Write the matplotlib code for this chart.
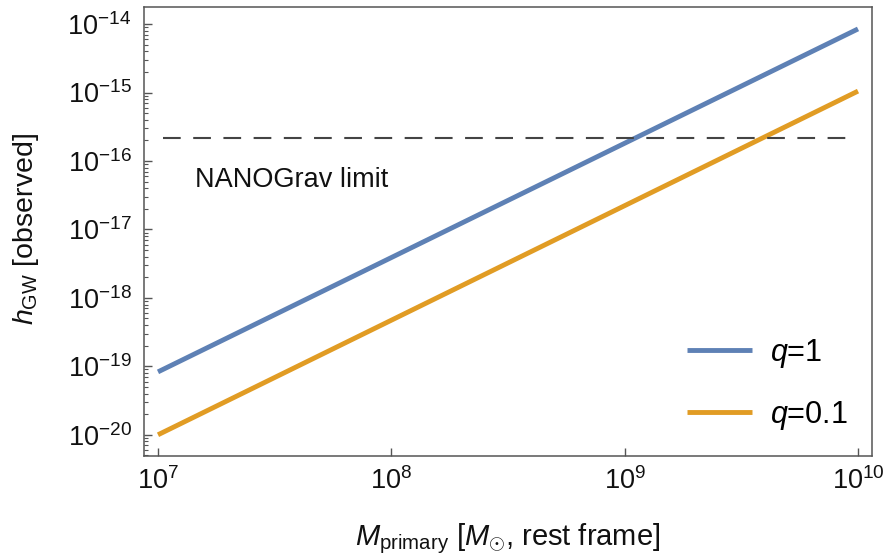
import numpy as np
import matplotlib.pyplot as plt
from matplotlib.ticker import LogLocator, NullFormatter

plt.rcParams['font.family'] = ['Liberation Sans', 'DejaVu Sans']
plt.rcParams['mathtext.fontset'] = 'custom'
plt.rcParams['mathtext.rm'] = 'Liberation Sans'
plt.rcParams['mathtext.it'] = 'Liberation Sans:italic'

# ── datos ─────────────────────────────────────
m_primary = [1e7, 1e10]
h_q1 = [8.3e-20, 8.5e-15]
h_q01 = [1.0e-20, 1.05e-15]
nanograv_limit = 2.2e-16
limit_span = [10 ** 7.02, 10 ** 9.966]

BLUE = '#5E81B5'
ORANGE = '#E19C24'
AX = '#555555'
TXT = '#111111'

fig = plt.figure(figsize=(8.88, 5.58), dpi=100)
ax = fig.add_axes([144 / 888, 1 - 456 / 558, (872 - 144) / 888, (456 - 7) / 558])

ax.plot(m_primary, h_q1, color=BLUE, lw=3.5, label='$q$=1', solid_capstyle='butt')
ax.plot(m_primary, h_q01, color=ORANGE, lw=3.5, label='$q$=0.1', solid_capstyle='butt')
ax.plot(limit_span, [nanograv_limit] * 2, color='#444444', lw=1.5, dashes=(8.5, 6))

ax.set_xscale('log')
ax.set_yscale('log')
ax.set_xlim(10 ** 6.94, 10 ** 10.06)
ax.set_ylim(10 ** -20.31, 10 ** -13.75)

ax.text(10 ** 7.158, 10 ** -16.28, 'NANOGrav limit', fontsize=19.5, va='center', ha='left', color=TXT)

for sp in ax.spines.values():
    sp.set_color(AX)
    sp.set_linewidth(1.1)

ax.xaxis.set_major_locator(LogLocator(base=10, numticks=10))
ax.xaxis.set_minor_locator(LogLocator(base=10, subs=(), numticks=10))
ax.xaxis.set_minor_formatter(NullFormatter())
ax.yaxis.set_major_locator(LogLocator(base=10, numticks=20))
ax.yaxis.set_minor_locator(LogLocator(base=10, subs=np.arange(2, 10), numticks=20))
ax.yaxis.set_minor_formatter(NullFormatter())
ax.tick_params(which='both', direction='in', top=False, right=False, colors=AX,
               labelcolor=TXT, labelsize=19.5)
ax.tick_params(axis='y', pad=9)
ax.tick_params(axis='x', pad=8)
ax.tick_params(which='major', length=6, width=1.0)
ax.tick_params(which='minor', length=3, width=0.8)

ax.set_xlabel(r'$M_{\rm primary}$ [$M_{\odot}$, rest frame]', fontsize=21, color=TXT)
ax.set_ylabel(r'$h_{\rm GW}$ [observed]', fontsize=20.5, color=TXT)
ax.xaxis.set_label_coords(0.5, -0.145)
ax.yaxis.set_label_coords(-0.142, 0.505)

leg = ax.legend(loc='lower right', frameon=False, fontsize=22, handlelength=2.1,
                labelspacing=0.95, handletextpad=0.6, borderaxespad=0.4)

fig.savefig('out.png', dpi=100)
